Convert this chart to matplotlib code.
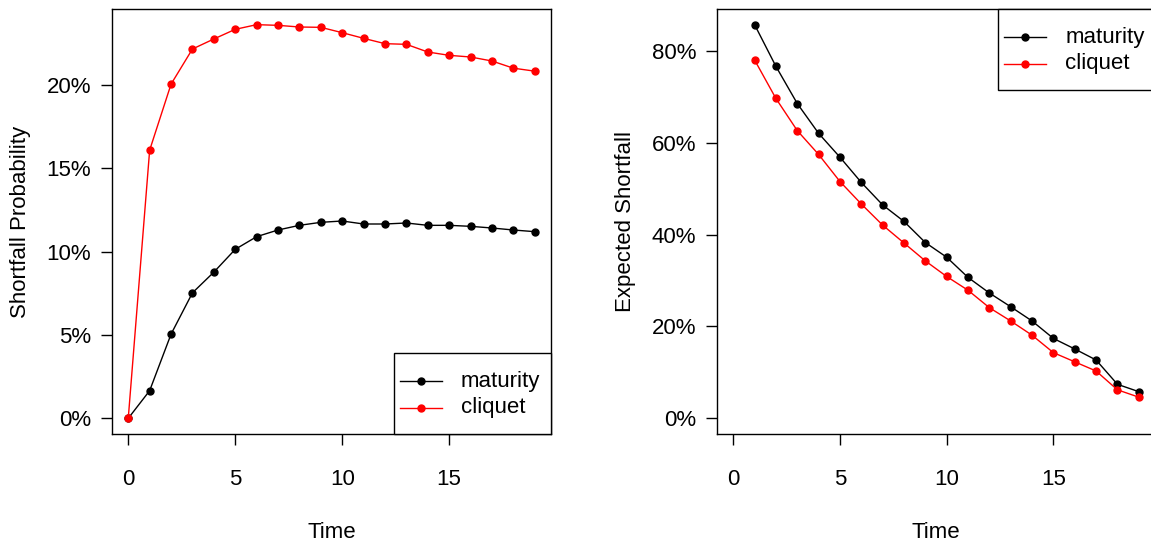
import matplotlib
matplotlib.use('Agg')
import matplotlib.pyplot as plt
from matplotlib.lines import Line2D
from matplotlib.patches import Rectangle
from matplotlib.ticker import FuncFormatter

plt.rcParams['font.family'] = ['Liberation Sans', 'DejaVu Sans']

# Shortfall probability (%), time 0..19
time_prob = list(range(0, 20))
prob_maturity = [0.0, 1.66, 5.05, 7.53, 8.77, 10.14, 10.90, 11.30, 11.58, 11.76,
                 11.84, 11.66, 11.66, 11.72, 11.58, 11.58, 11.52, 11.42, 11.30, 11.20]
prob_cliquet = [0.0, 16.09, 20.05, 22.16, 22.76, 23.34, 23.62, 23.58, 23.48, 23.46,
                23.14, 22.80, 22.48, 22.44, 21.98, 21.78, 21.68, 21.44, 21.01, 20.83]

# Expected shortfall (%), time 1..19
time_es = list(range(1, 20))
es_maturity = [85.8, 76.7, 68.6, 62.1, 56.9, 51.4, 46.5, 42.9, 38.3, 35.1,
               30.7, 27.3, 24.3, 21.2, 17.4, 15.1, 12.7, 7.4, 5.8]
es_cliquet = [78.1, 69.7, 62.7, 57.5, 51.6, 46.7, 42.1, 38.2, 34.3, 30.9,
              27.9, 24.1, 21.2, 18.1, 14.3, 12.3, 10.3, 6.2, 4.6]

labels = ['maturity', 'cliquet']
colors = ['black', 'red']
fs = 16
pct = FuncFormatter(lambda v, p: f'{v:.0f}%')

W, H = 1151, 541
AW, AH = 439, 425  # axes size in px
fig = plt.figure(figsize=(W / 100, H / 100), dpi=100)
ax1 = fig.add_axes([112 / W, 1 - 434 / H, AW / W, AH / H])
ax2 = fig.add_axes([717 / W, 1 - 434 / H, 438 / W, AH / H])


def r_legend(ax, top):
    # R style legend box, 157 x 81 px, placed in a right corner
    bw, bh = 157, 81
    x0 = AW - bw
    y0 = AH - bh if top else 0
    fx = lambda px: px / AW
    fy = lambda py: py / AH
    ax.add_patch(Rectangle((fx(x0), fy(y0)), fx(bw), fy(bh), transform=ax.transAxes,
                           fill=True, facecolor='white', edgecolor='black', lw=1,
                           clip_on=False, zorder=5))
    for i, (lab, c) in enumerate(zip(labels, colors)):
        yy = fy(y0 + bh - 28 - 26.5 * i)
        ax.add_line(Line2D([fx(x0 + 6), fx(x0 + 48)], [yy, yy], color=c, lw=1,
                           transform=ax.transAxes, clip_on=False, zorder=6))
        ax.add_line(Line2D([fx(x0 + 27)], [yy], color=c, marker='o', markersize=5,
                           transform=ax.transAxes, clip_on=False, zorder=6))
        ax.text(fx(x0 + 67), yy, lab, transform=ax.transAxes, fontsize=fs,
                va='center', ha='left', zorder=7)


def panel(ax, x, y1, y2, ylim, yticks, ylabel, top):
    ax.plot(x, y1, color=colors[0], marker='o', markersize=5, lw=1)
    ax.plot(x, y2, color=colors[1], marker='o', markersize=5, lw=1)
    ax.set_xlim(-0.76, 19.76)
    ax.set_ylim(*ylim)
    ax.set_xticks([0, 5, 10, 15])
    ax.set_yticks(yticks)
    ax.yaxis.set_major_formatter(pct)
    ax.tick_params(direction='out', length=8, width=1, labelsize=fs)
    ax.tick_params(axis='x', pad=17)
    ax.tick_params(axis='y', pad=7)
    for s in ax.spines.values():
        s.set_linewidth(1)
    ax.set_xlabel('Time', fontsize=fs, labelpad=23)
    ax.set_ylabel(ylabel, fontsize=fs, labelpad=11)
    r_legend(ax, top)


panel(ax1, time_prob, prob_maturity, prob_cliquet, (-0.94, 24.56),
      [0, 5, 10, 15, 20], 'Shortfall Probability', False)
panel(ax2, time_es, es_maturity, es_cliquet, (-3.43, 89.2),
      [0, 20, 40, 60, 80], 'Expected Shortfall', True)

fig.savefig('out.png', dpi=100)
